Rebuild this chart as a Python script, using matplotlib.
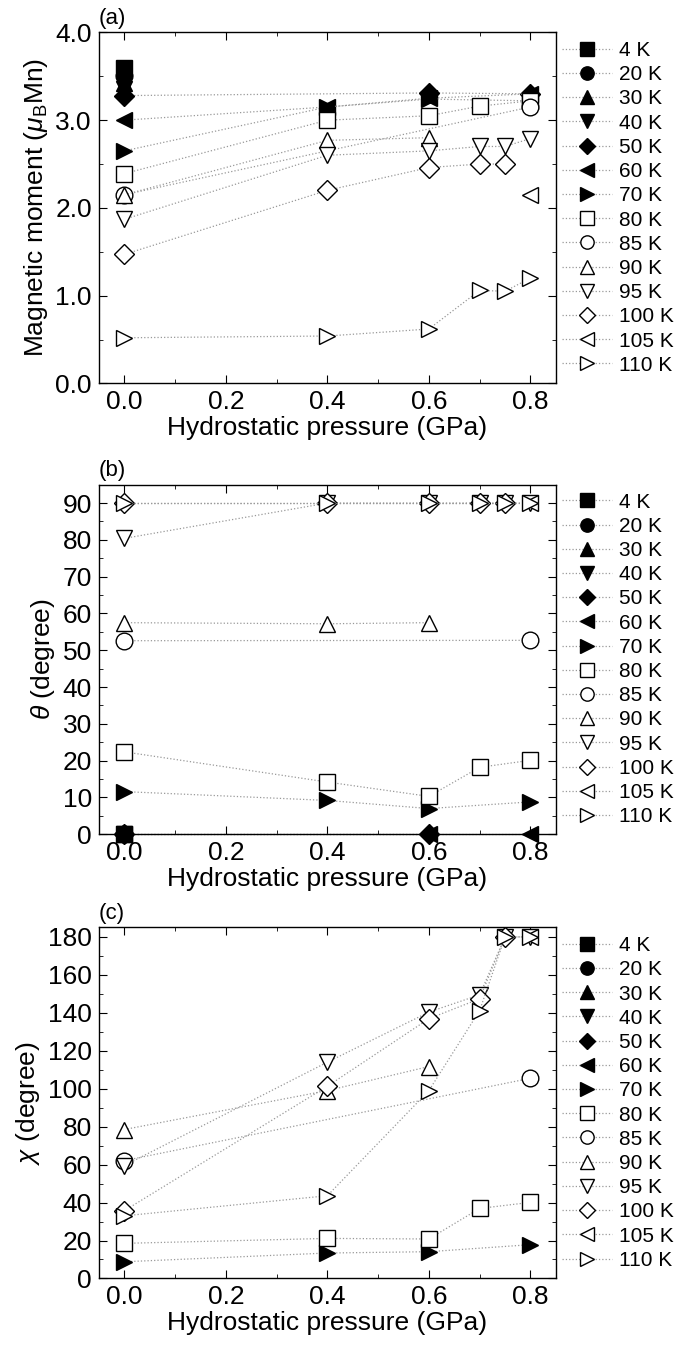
import numpy as np
import matplotlib.pyplot as plt
from matplotlib.ticker import MultipleLocator, FormatStrFormatter

plt.rcParams['font.family'] = ['Liberation Sans', 'DejaVu Sans']
plt.rcParams['mathtext.fontset'] = 'custom'
plt.rcParams['mathtext.rm'] = 'Liberation Sans'
plt.rcParams['mathtext.it'] = 'Liberation Sans:italic'

# DATA
labels = ['4 K', '20 K', '30 K', '40 K', '50 K', '60 K', '70 K',
          '80 K', '85 K', '90 K', '95 K', '100 K', '105 K', '110 K']
markers = ['s', 'o', '^', 'v', 'D', '<', '>'] * 2
filled = [True] * 7 + [False] * 7

# (a) magnetic moment: (pressure list, value list) per temperature
mom_p = [[0], [0], [0], [0], [0, 0.6, 0.8], [0, 0.4, 0.6, 0.8], [0, 0.4, 0.6, 0.8],
         [0, 0.4, 0.6, 0.7, 0.8], [0, 0.8], [0, 0.4, 0.6],
         [0, 0.4, 0.6, 0.7, 0.75, 0.8], [0, 0.4, 0.6, 0.7, 0.75], [0.8],
         [0, 0.4, 0.6, 0.7, 0.75, 0.8]]
mom_v = [[3.6], [3.5], [3.42], [3.36], [3.28, 3.31, 3.3], [3.0, 3.15, 3.25, 3.3],
         [2.65, 3.15, 3.24, 3.22], [2.39, 3.0, 3.05, 3.16, 3.22], [2.15, 3.15],
         [2.15, 2.77, 2.8], [1.87, 2.6, 2.65, 2.7, 2.7, 2.79],
         [1.47, 2.2, 2.46, 2.5, 2.5], [2.15], [0.52, 0.54, 0.62, 1.06, 1.05, 1.2]]

# (b) theta
th_p = [[0], [0], [0], [0], [0, 0.6], [0, 0.6, 0.8], [0, 0.4, 0.6, 0.8],
        [0, 0.4, 0.6, 0.7, 0.8], [0, 0.8], [0, 0.4, 0.6],
        [0, 0.4, 0.6, 0.7, 0.75, 0.8], [0, 0.4, 0.6, 0.7, 0.75], [0.8],
        [0, 0.4, 0.6, 0.7, 0.75, 0.8]]
th_v = [[0], [0], [0], [0], [0, 0], [0, 0, 0], [11.6, 9.2, 7.0, 8.8],
        [22.4, 14.2, 10.3, 18.2, 20.1], [52.6, 52.7], [57.5, 57.2, 57.5],
        [80.4, 90, 90, 90, 90, 90], [90, 90, 90, 90, 90], [90],
        [90, 90, 90, 90, 90, 90]]

# (c) chi
chi_p = [[], [], [], [], [], [], [0, 0.4, 0.6, 0.8],
         [0, 0.4, 0.6, 0.7, 0.8], [0, 0.8], [0, 0.4, 0.6],
         [0, 0.4, 0.6, 0.7, 0.75, 0.8], [0, 0.4, 0.6, 0.7, 0.75], [0.8],
         [0, 0.4, 0.6, 0.7, 0.75, 0.8]]
chi_v = [[], [], [], [], [], [], [8.8, 13.4, 14.1, 17.8],
         [18.5, 21.1, 20.8, 36.9, 40.1], [62.1, 105.5], [78.5, 99, 111.7],
         [59.5, 114, 140.4, 149.5, 180, 180], [35.7, 101.3, 136.9, 147.4, 180],
         [180], [33, 43.6, 99, 141.2, 180, 180]]

FS = 19
fig = plt.figure(figsize=(6.87, 13.5), dpi=100)
rects = [[0.144, 0.716, 0.665, 0.260],
         [0.144, 0.382, 0.665, 0.259],
         [0.144, 0.053, 0.665, 0.260]]
panels = [
    (mom_p, mom_v, (0, 4.0), 1.0, 0.5, '%.1f', r'Magnetic moment ($\mu_{\rm B}$Mn)', '(a)'),
    (th_p, th_v, (0, 95), 10, 5, '%d', r'$\theta$ (degree)', '(b)'),
    (chi_p, chi_v, (0, 185), 20, 10, '%d', r'$\chi$ (degree)', '(c)'),
]

for rect, (P, V, ylim, maj, mnr, fmt, ylab, tag) in zip(rects, panels):
    ax = fig.add_axes(rect)
    for i in range(len(labels)):
        fc = 'black' if filled[i] else 'white'
        ms = 10 if markers[i] == 'D' else 12
        ax.plot(P[i], V[i], linestyle=':', color='0.6', lw=0.9,
                marker=markers[i], markersize=ms, markerfacecolor=fc,
                markeredgecolor='black', markeredgewidth=1.0, label=labels[i],
                clip_on=False)
    ax.set_xlim(-0.05, 0.85)
    ax.set_ylim(*ylim)
    ax.xaxis.set_major_locator(MultipleLocator(0.2))
    ax.xaxis.set_minor_locator(MultipleLocator(0.1))
    ax.xaxis.set_major_formatter(FormatStrFormatter('%.1f'))
    ax.yaxis.set_major_locator(MultipleLocator(maj))
    ax.yaxis.set_minor_locator(MultipleLocator(mnr))
    ax.yaxis.set_major_formatter(FormatStrFormatter(fmt))
    ax.tick_params(which='both', direction='in', top=True, right=True,
                   labelsize=FS, pad=5)
    ax.tick_params(which='major', length=6)
    ax.tick_params(which='minor', length=3)
    for s in ax.spines.values():
        s.set_linewidth(1.0)
    ax.set_xlabel('Hydrostatic pressure (GPa)', fontsize=FS, labelpad=1)
    ax.set_ylabel(ylab, fontsize=FS, labelpad=4)
    ax.text(0.0, 1.01, tag, transform=ax.transAxes, fontsize=16, va='bottom', ha='left')
    ax.legend(loc='center left', bbox_to_anchor=(1.0, 0.5), frameon=False,
              fontsize=15, handlelength=2.4, handletextpad=0.35, labelspacing=0.25,
              borderpad=0, borderaxespad=0.3, markerscale=0.8)

plt.savefig('out.png', dpi=100)
